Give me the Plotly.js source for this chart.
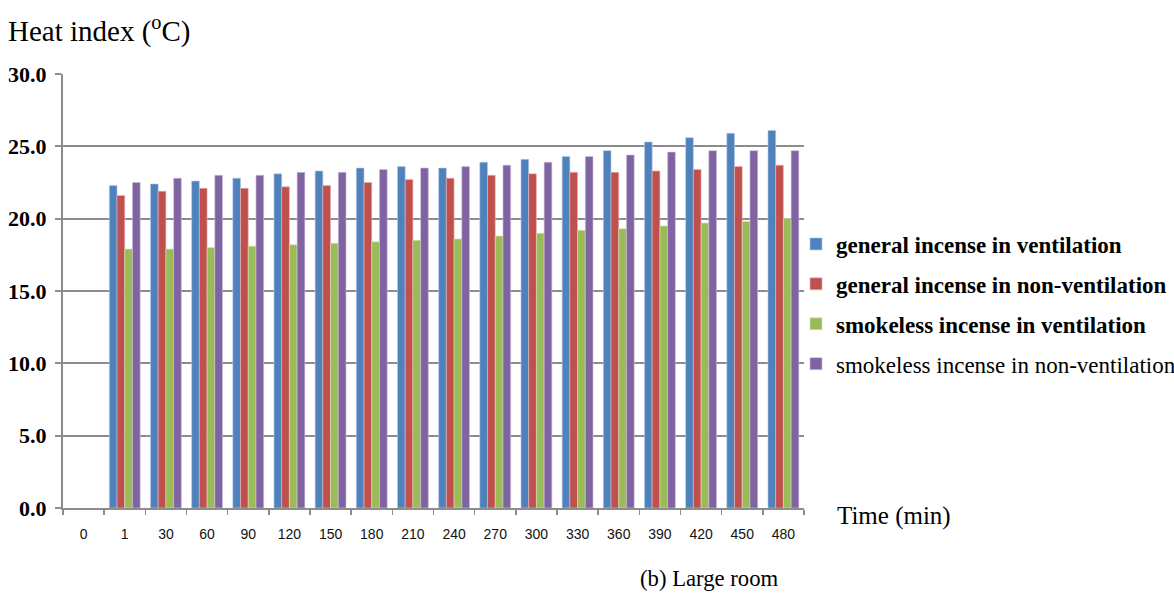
<!DOCTYPE html>
<html>
<head>
<meta charset="utf-8">
<script src="https://cdn.plot.ly/plotly-3.0.1.min.js"></script>
<style>html,body{margin:0;padding:0;background:#fff;}#chart{width:1174px;height:594px;}</style>
</head>
<body>
<div id="chart"></div>
<script>
const categories = ["0","1","30","60","90","120","150","180","210","240","270","300","330","360","390","420","450","480"];
const seriesNames = ["<b>general incense in ventilation</b>","<b>general incense in non-ventilation</b>","<b>smokeless incense in ventilation</b>","smokeless incense in non-ventilation"];
const generalVent    = [null,22.3,22.4,22.6,22.8,23.1,23.3,23.5,23.6,23.5,23.9,24.1,24.3,24.7,25.3,25.6,25.9,26.1];
const generalNonVent = [null,21.6,21.9,22.1,22.1,22.2,22.3,22.5,22.7,22.8,23.0,23.1,23.2,23.2,23.3,23.4,23.6,23.7];
const smokelessVent  = [null,17.9,17.9,18.0,18.1,18.2,18.3,18.4,18.5,18.6,18.8,19.0,19.2,19.3,19.5,19.7,19.8,20.0];
const smokelessNonVent=[null,22.5,22.8,23.0,23.0,23.2,23.2,23.4,23.5,23.6,23.7,23.9,24.3,24.4,24.6,24.7,24.7,24.7];
const colors = ["#4F81BD","#C0504D","#9BBB59","#8064A2"];
const lineColors = ["#B9CDE5","#E6B9B8","#D7E4BD","#CCC1DA"];
const allSeries = [generalVent, generalNonVent, smokelessVent, smokelessNonVent];

const traces = allSeries.map((vals, i) => ({
  type: 'bar',
  x: categories,
  y: vals,
  name: seriesNames[i],
  legendgroup: 'g' + i,
  marker: {color: colors[i], line: {color: lineColors[i], width: 0.6}},
  hoverinfo: 'x+y'
}));

const serif = '"Liberation Serif", "Times New Roman", serif';
const PW = 741, PH = 434, ML = 63, MT = 74;
const px = v => (v - ML) / PW;
const py = v => (MT + PH - v) / PH;

const layout = {
  width: 1174, height: 594,
  margin: {l: ML, r: 370, t: MT, b: 86, autoexpand: false},
  paper_bgcolor: '#fff', plot_bgcolor: '#fff',
  barmode: 'group', bargap: 0.25, bargroupgap: 0,
  font: {family: serif, color: '#000'},
  xaxis: {
    type: 'category', categoryorder: 'array', categoryarray: categories,
    range: [-0.5, 17.5], automargin: false,
    showline: true, linecolor: '#8c8c8c', linewidth: 2,
    ticks: 'outside', tickson: 'boundaries', ticklen: 5, tickcolor: '#8c8c8c', tickwidth: 1.5,
    tickfont: {family: '"Liberation Sans", Arial, sans-serif', size: 14, color: '#111'},
    ticklabelstandoff: 12,
    showgrid: false, zeroline: false, fixedrange: true
  },
  yaxis: {
    range: [0, 30], tickvals: [0,5,10,15,20,25,30], tickformat: '.1f', automargin: false,
    showline: true, linecolor: '#8c8c8c', linewidth: 2,
    ticks: 'outside', ticklen: 6, tickcolor: '#8c8c8c', tickwidth: 2,
    showgrid: true, gridcolor: '#8c8c8c', gridwidth: 2,
    zeroline: false,
    tickfont: {family: serif, size: 22, color: '#000', weight: 'bold'},
    ticklabelstandoff: 4, fixedrange: true
  },
  showlegend: true,
  legend: {
    x: px(796), xanchor: 'left', y: py(304), yanchor: 'middle',
    font: {family: serif, size: 23, color: '#000'},
    traceorder: 'grouped', tracegroupgap: 7,
    itemwidth: 30, bgcolor: 'rgba(0,0,0,0)'
  },
  annotations: [
    {text: 'Heat index (<sup>o</sup>C)', xref: 'paper', yref: 'paper', x: px(6), y: py(29), xanchor: 'left', yanchor: 'middle', showarrow: false, font: {size: 29, family: serif}},
    {text: 'Time (min)', xref: 'paper', yref: 'paper', x: px(835), y: py(516), xanchor: 'left', yanchor: 'middle', showarrow: false, font: {size: 25, family: serif}},
    {text: '(b) Large room', xref: 'paper', yref: 'paper', x: px(709), y: py(578), xanchor: 'center', yanchor: 'middle', showarrow: false, font: {size: 22.7, family: serif}}
  ]
};

Plotly.newPlot('chart', traces, layout, {displayModeBar: false, staticPlot: true});
</script>
</body>
</html>
